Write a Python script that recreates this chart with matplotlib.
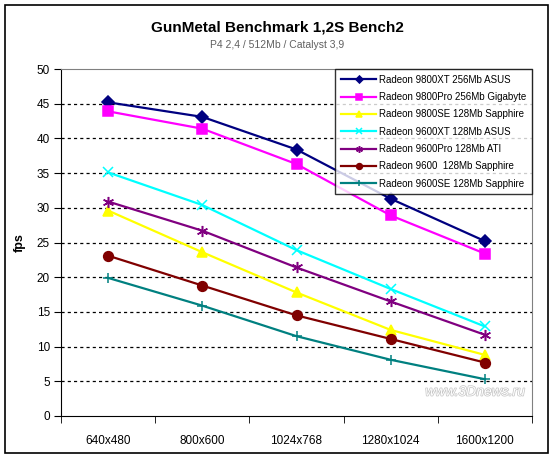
import matplotlib
matplotlib.use("Agg")
import matplotlib.pyplot as plt
import matplotlib.patheffects as pe
from matplotlib.patches import Rectangle

plt.rcParams['font.family'] = ['Liberation Sans', 'DejaVu Sans']

categories = ["640x480", "800x600", "1024x768", "1280x1024", "1600x1200"]
series_names = [
    "Radeon 9800XT 256Mb ASUS",
    "Radeon 9800Pro 256Mb Gigabyte",
    "Radeon 9800SE 128Mb Sapphire",
    "Radeon 9600XT 128Mb ASUS",
    "Radeon 9600Pro 128Mb ATI",
    "Radeon 9600  128Mb Sapphire",
    "Radeon 9600SE 128Mb Sapphire",
]
r9800xt = [45.2, 43.1, 38.4, 31.3, 25.2]
r9800pro = [43.9, 41.4, 36.3, 28.9, 23.4]
r9800se = [29.6, 23.6, 17.8, 12.4, 8.8]
r9600xt = [35.1, 30.4, 23.9, 18.3, 12.9]
r9600pro = [30.9, 26.7, 21.4, 16.5, 11.7]
r9600 = [23.1, 18.8, 14.5, 11.1, 7.7]
r9600se = [19.9, 15.9, 11.5, 8.1, 5.3]
y_ticks = [0, 5, 10, 15, 20, 25, 30, 35, 40, 45, 50]

values = [r9800xt, r9800pro, r9800se, r9600xt, r9600pro, r9600, r9600se]
colors = ["#000080", "#FF00FF", "#FFFF00", "#00FFFF", "#800080", "#800000", "#008080"]
markers = ["D", "s", "^", "x", (6, 2, 0), "o", "+"]
msizes = [6, 7, 7, 7, 8, 7, 7]

fig = plt.figure(figsize=(5.54, 4.58), dpi=100)
fig.patches.append(Rectangle((5/554, 1-453/458), 543/554, 448/458, transform=fig.transFigure,
                             fill=False, edgecolor="black", linewidth=1.2))

ax = fig.add_axes([61/554, 1-416/458, 471/554, 347/458])
x = list(range(len(categories)))
for name, vals, c, m, ms in zip(series_names, values, colors, markers, msizes):
    ax.plot(x, vals, color=c, marker=m, markersize=ms, linewidth=1.6,
            markeredgecolor=c, markerfacecolor=c, markeredgewidth=1.1, label=name)

ax.set_xlim(-0.5, len(categories) - 0.5)
ax.set_ylim(0, 50)
ax.set_yticks(y_ticks)
ax.set_yticklabels([str(t) for t in y_ticks], fontsize=8.5)
ax.set_xticks(x)
ax.set_xticklabels(categories, fontsize=8.5)
ax.set_xticks([i - 0.5 for i in range(len(categories) + 1)], minor=True)
ax.tick_params(axis='x', which='major', length=0, pad=14)
ax.tick_params(axis='x', which='minor', length=5, direction='out')
ax.tick_params(axis='y', length=5, direction='out', pad=3)
for t in y_ticks[1:-1]:
    ax.axhline(t, color="black", linestyle=(0, (2.5, 2.5)), linewidth=0.9, zorder=0)
for side in ["top", "right"]:
    ax.spines[side].set_color("#808080")
for side in ["left", "bottom"]:
    ax.spines[side].set_color("black")

ax.set_ylabel("fps", fontsize=9, fontweight="bold", labelpad=8)

leg = ax.legend(loc="upper right", bbox_to_anchor=(1.0, 1.0), fontsize=7, frameon=True,
                fancybox=False, edgecolor="black", borderpad=0.6, labelspacing=0.75,
                handlelength=3.6, handletextpad=0.3, borderaxespad=0, markerscale=0.6)
leg.get_frame().set_linewidth(1)

fig.text(0.5, 1-27/458, "GunMetal Benchmark 1,2S Bench2", ha="center", va="center",
         fontsize=11, fontweight="bold")
fig.text(0.5, 1-45/458, "P4 2,4 / 512Mb / Catalyst 3,9", ha="center", va="center",
         fontsize=7.5, color="#606060")
ax.text(0.985, 0.05, "www.3Dnews.ru", transform=ax.transAxes, ha="right", va="bottom",
        fontsize=10, style="italic", color="white",
        path_effects=[pe.withStroke(linewidth=1.0, foreground="#c4c4c4")])

fig.savefig("out.png", dpi=100)
